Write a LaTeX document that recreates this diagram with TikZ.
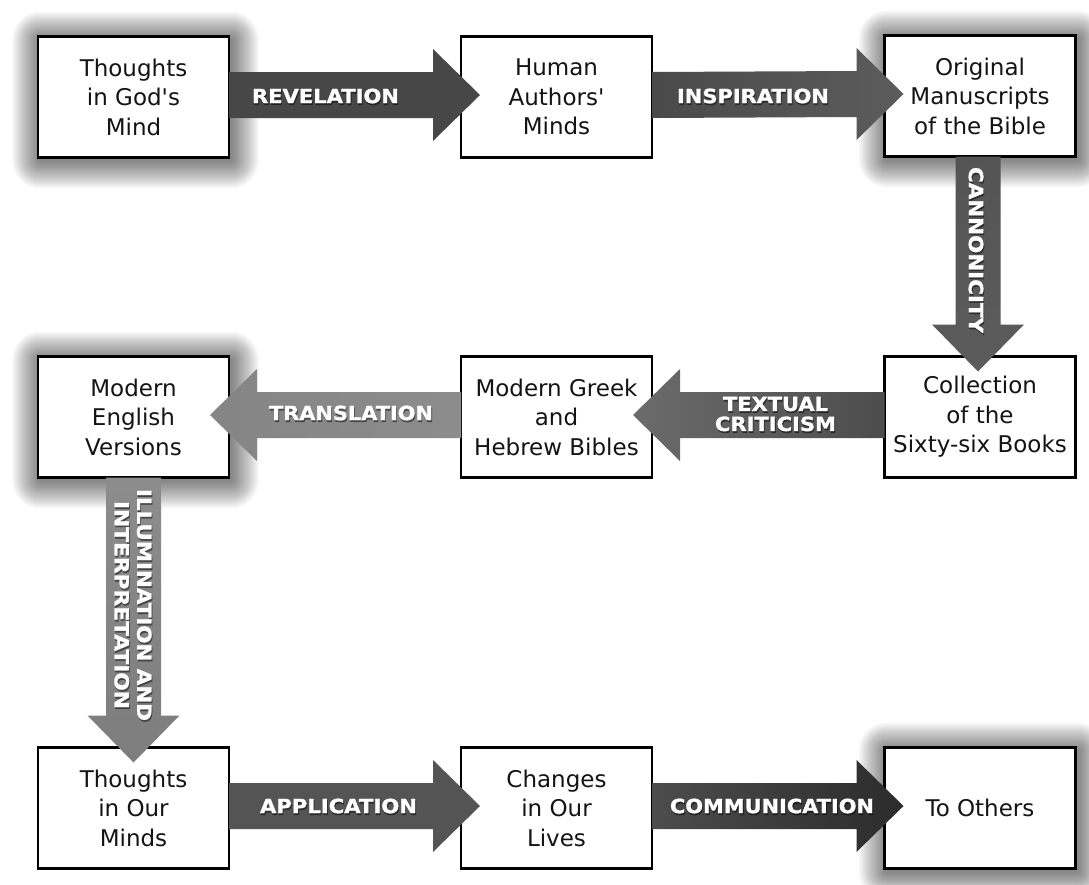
\documentclass[tikz,border=0pt]{standalone}
\usepackage{fontspec}
\newfontfamily\boxfont{DejaVu Sans}
\newfontfamily\labfam{DejaVu Sans}[BoldFeatures={FakeBold=1.3}]
\usetikzlibrary{calc,backgrounds}

% grey levels of the block arrows
\definecolor{revelC}{gray}{0.28}
\definecolor{inspA}{gray}{0.29}
\definecolor{inspB}{gray}{0.36}
\definecolor{canA}{gray}{0.33}
\definecolor{canB}{gray}{0.43}
\definecolor{canC}{gray}{0.36}
\definecolor{textA}{gray}{0.42}
\definecolor{textB}{gray}{0.30}
\definecolor{transA}{gray}{0.52}
\definecolor{transB}{gray}{0.55}
\definecolor{illA}{gray}{0.55}
\definecolor{illB}{gray}{0.49}
\definecolor{applC}{gray}{0.33}
\definecolor{commA}{gray}{0.30}
\definecolor{commB}{gray}{0.17}

% bold label text squeezed or stretched to a given width
\newcommand\labfont{\labfam\bfseries\fontsize{19.5}{20}\selectfont}
\newsavebox\labbox
\newcommand\fitw[2]{\sbox\labbox{\labfont #2}%
  \pgfmathsetmacro\fitfac{#1/\the\wd\labbox}%
  \scalebox{\fitfac}[1]{\usebox\labbox}}

% white label over a dark drop shadow
\newcommand\arrowlabel[4]{%
  \node[lblshade,#3] at ($#2+(0.8,1.8)$) {#4};
  \node[lbl,#3] (#1) at #2 {#4};}

% block arrows between boxes
\newcommand\rightblock[3]{%
  \path[#3] ($(#1.east)+(0,-25)$) -- ($(#2.west)+(-28,-25)$) -- ($(#2.west)+(-28,-48)$)
    -- ($(#2.west)+(19,-2)$) -- ($(#2.west)+(-28,44)$) -- ($(#2.west)+(-28,21)$)
    -- ($(#1.east)+(0,21)$) -- cycle;}
\newcommand\leftblock[3]{%
  \path[#3] ($(#1.west)+(0,-25)$) -- ($(#2.east)+(28,-25)$) -- ($(#2.east)+(28,-48)$)
    -- ($(#2.east)+(-19,-2)$) -- ($(#2.east)+(28,44)$) -- ($(#2.east)+(28,21)$)
    -- ($(#1.west)+(0,21)$) -- cycle;}
\newcommand\downblock[5]{% from, to, shaft half width, x shift, fill
  \path[#5] ($(#1.south)+(#4-#3,0)$) -- ($(#2.north)+(#4-#3,-32)$) -- ($(#2.north)+(#4-46,-32)$)
    -- ($(#2.north)+(#4,15)$) -- ($(#2.north)+(#4+46,-32)$) -- ($(#2.north)+(#4+#3,-32)$)
    -- ($(#1.south)+(#4+#3,0)$) -- cycle;}

% soft grey glow around a box
\newcommand\glow[1]{%
  \foreach \r in {1,...,28}{
    \fill[black, opacity=0.021, rounded corners=\r pt]
      ($(#1.south west)+(-\r+2,\r+3)$) rectangle ($(#1.north east)+(\r+2,-\r+3)$);}}

\begin{document}
\begin{tikzpicture}[x=1pt,y=-1pt,
  box/.style={draw=black, line width=2.2pt, fill=white, minimum width=191pt,
    minimum height=121pt, inner sep=0pt, outer sep=0pt, align=center,
    text=black!92, font=\boxfont\fontsize{23}{29.5}\selectfont},
  lbl/.style={text=white, inner sep=0pt, align=center, font=\fontsize{19.5}{20}\selectfont},
  lblshade/.style={text=black, opacity=0.45, inner sep=0pt, align=center,
    font=\fontsize{19.5}{20}\selectfont}]
\useasboundingbox (0,0) rectangle (1089,884);

% boxes
\node[box] (god) at (133.5,97) {Thoughts\\in God's\\Mind};
\node[box] (authors) at (556.5,97) {Human\\Authors'\\Minds};
\node[box] (orig) at (980,96) {Original\\Manuscripts\\of the Bible};
\node[box] (english) at (133.5,417) {Modern\\English\\Versions};
\node[box] (greek) at (556.5,417) {Modern Greek\\and\\Hebrew Bibles};
\node[box] (sixty) at (980,417) {Collection\\of the\\Sixty-six Books};
\node[box] (ours) at (133.5,808) {Thoughts\\in Our\\Minds};
\node[box] (lives) at (556.5,808) {Changes\\in Our\\Lives};
\node[box] (others) at (980,808) {To Others};

\begin{pgfonlayer}{background}
  \fill[white] (0,0) rectangle (1089,884);
  \glow{god}
  \glow{orig}
  \glow{english}
  \glow{others}
\end{pgfonlayer}

% block arrows
\rightblock{god}{authors}{fill=revelC}
\rightblock{authors}{orig}{left color=inspA, right color=inspB}
\downblock{orig}{sixty}{22.5}{-2}{top color=canA, middle color=canB, bottom color=canC}
\leftblock{sixty}{greek}{left color=textA, right color=textB}
\leftblock{greek}{english}{left color=transA, right color=transB}
\downblock{english}{ours}{27.5}{0}{top color=illA, bottom color=illB}
\rightblock{ours}{lives}{fill=applC}
\rightblock{lives}{others}{left color=commA, right color=commB}

% arrow labels
\arrowlabel{revelation}{(325.5,96)}{}{\fitw{147}{REVELATION}}
\arrowlabel{inspiration}{(753,96)}{}{\fitw{152}{INSPIRATION}}
\arrowlabel{canonicity}{(976,250)}{rotate=-90}{\fitw{166}{CANNONICITY}}
\arrowlabel{criticism}{(775.5,414)}{}{\fitw{105}{TEXTUAL}\\\fitw{121}{CRITICISM}}
\arrowlabel{translation}{(351,413)}{}{\fitw{164}{TRANSLATION}}
\arrowlabel{illumination}{(133,605)}{rotate=-90, font=\fontsize{19.5}{22.5}\selectfont}{\fitw{232}{ILLUMINATION AND}\\\fitw{208}{INTERPRETATION}}
\arrowlabel{application}{(338.5,806)}{}{\fitw{157}{APPLICATION}}
\arrowlabel{communication}{(772,806)}{}{\fitw{204}{COMMUNICATION}}
\end{tikzpicture}
\end{document}
